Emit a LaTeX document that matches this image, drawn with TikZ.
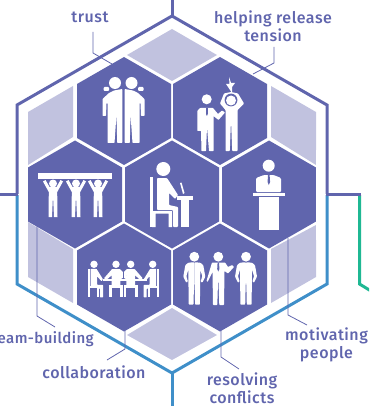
\documentclass[tikz,border=0pt]{standalone}
\usepackage{fontspec}
\setmainfont{Fira Sans}[UprightFont=* Medium,LetterSpace=3]
\definecolor{pur}{HTML}{6065AD}
\definecolor{lit}{HTML}{C1C2DF}
\definecolor{blu}{HTML}{3F8FC9}
\definecolor{grn}{HTML}{1FB893}
\newcommand{\hexcell}[2]{\fill[pur] (#1,#2-54) -- (#1+47,#2-27) -- (#1+47,#2+27) -- (#1,#2+54) -- (#1-47,#2+27) -- (#1-47,#2-27) -- cycle;}
\newcommand{\halfakimbo}{\fill[white,rounded corners=0.8] (0,5.5) -- (6,6) -- (9,8.5) -- (11,20) -- (8,26) -- (6.3,25) -- (8,19.5) -- (6,13) -- (5.6,48) -- (0.8,48) -- (0.3,27) -- (0,27) -- cycle;}
\newcommand{\akimbo}[2]{\begin{scope}[shift={(#1,#2)}]\fill[white] (0,0) circle (4.9);\halfakimbo\begin{scope}[xscale=-1]\halfakimbo\end{scope}\end{scope}}
\newcommand{\halfhug}{\fill[white,rounded corners=0.6] (-0.7,-1) -- (-9,0.5) -- (-14,3) -- (-20.5,9) -- (-20.5,26) -- (-17,26) -- (-16.5,13) -- (-15.5,13) -- (-15.5,53) -- (-8.5,53) -- (-6.5,24) -- (-5.8,53) -- (-0.7,53) -- cycle;
\fill[white,rounded corners=1] (-19.5,-3) rectangle (-14,1);}
\newcommand{\lifter}[2]{\begin{scope}[shift={(#1,#2)}]
\fill[white] (0,0) circle (4);
\fill[white] (-10,-2) -- (-7.5,-3.5) -- (-3.5,3.5) -- (3.5,3.5) -- (7.5,-3.5) -- (10,-2) -- (4.2,8.5) -- (4.5,33.5) -- (1,33.5) -- (0.2,16) -- (-0.2,16) -- (-1,33.5) -- (-4.5,33.5) -- (-4.2,8.5) -- cycle;
\end{scope}}
\newcommand{\sitterL}[1]{\begin{scope}[shift={(#1,264.3)}]
\fill[white] (0,0) circle (3.7);
\fill[white] (-6,4.5) rectangle (-4.3,33);
\fill[white] (-6,22) rectangle (5,24);
\fill[white] (3.2,24) rectangle (5,33);
\fill[white,rounded corners=.5] (-3.5,4.5) -- (2.5,4.5) -- (9,15) -- (7.5,17) -- (3.2,12) -- (3.2,20.5) -- (9,20.5) -- (9,33) -- (6,33) -- (6,24.5) -- (-3.5,22) -- cycle;
\end{scope}}
\newcommand{\sitterM}[2]{\begin{scope}[shift={(#1,264.3)},xscale=#2]
\fill[white] (0,0) circle (3.7);
\fill[white,rounded corners=.5] (-4,4.8) -- (4,4.8) -- (13,14) -- (11.5,16) -- (4.3,11) -- (4.3,21) -- (-4.3,21) -- (-4.3,11) -- (-9.5,15.5) -- (-12,14) -- cycle;
\fill[white] (-7,21) rectangle (7,24);
\fill[white] (-7,24) rectangle (-4.3,33);
\fill[white] (4.3,24) rectangle (7,33);
\end{scope}}
\begin{document}
\begin{tikzpicture}[x=1pt,y=-1pt,
 lbl/.style={text=pur,font=\fontsize{16}{17.6}\selectfont,inner sep=0pt,align=center},
 outer/.style={line width=3pt,line join=miter},
 leader/.style={draw=pur,line width=0.8pt}]
\clip (0,0) rectangle (369,406);
% light cells
\fill[lit] (172,29) -- (217,55) -- (172,81) -- (127,55) -- cycle;
\fill[lit] (28,112) -- (73,86) -- (73,137) -- (28,165) -- cycle;
\fill[lit] (271,86) -- (316,112) -- (316,165) -- (271,137) -- cycle;
\fill[lit] (28,222) -- (73,249) -- (73,303) -- (28,277) -- cycle;
\fill[lit] (271,249) -- (316,225) -- (316,277) -- (271,303) -- cycle;
\fill[lit] (172,308) -- (217,335) -- (172,360) -- (127,335) -- cycle;
% dark cells
\hexcell{124}{111}
\hexcell{220}{111}
\hexcell{75}{194.5}
\hexcell{172}{194.5}
\hexcell{269}{194.5}
\hexcell{124}{277.5}
\hexcell{220}{277.5}
% clip dark side cells to the inner bound
\fill[white] (24,150) rectangle (28,240);
\fill[white] (316,150) rectangle (320,240);
% outer frame
\draw[outer,pur] (17,194) -- (17,105) -- (172,16) -- (327,105) -- (327,194);
\draw[outer,blu] (17,195) -- (17,284) -- (172,373) -- (327,284) -- (327,195);
\draw[outer,pur] (172,0) -- (172,16);
\draw[outer,blu] (172,373) -- (172,406);
\draw[outer,pur] (0,194) -- (18,194);
\draw[outer,grn,line join=miter] (359.5,195) -- (359.5,284) -- (371,291);
\draw[outer,pur] (326,194) -- (361,194);
% trust
\fill[white] (115,83) circle (6);
\fill[white] (131.5,83) circle (6);
\begin{scope}[shift={(123,90)}]\halfhug\end{scope}
\begin{scope}[shift={(124,90)},xscale=-1]\halfhug\end{scope}
% helping release tension
\fill[white] (206.7,99.3) circle (5);
\fill[white,rounded corners=.5] (200,108) -- (213,108) -- (218,114) -- (222,110.5) -- (225,112.5) -- (218.5,120) -- (213.5,116) -- (213.5,151) -- (209,151) -- (207,127) -- (206,151) -- (201.5,151) -- (201,131) -- (197.3,131) -- (197.3,111) -- cycle;
\fill[pur] (206,108) -- (207.8,108) -- (207.8,114) -- (206.9,116) -- (206,114) -- cycle;
\fill[white,rounded corners=.6] (231,92) -- (238,93.5) -- (244,103.5) -- (237.5,110) -- (237.5,151) -- (232.2,151) -- (231.2,125) -- (230.8,125) -- (229.8,151) -- (225.5,151) -- (225.5,110) -- (220,103.5) -- (224,93.5) -- cycle;
\fill[pur] (231,100) circle (6.4);
\fill[white] (231,100.5) circle (5);
\fill[white] (229,77) -- (231,83) -- (235,83) -- (232,87) -- (232,93) -- (226,84) -- (229.5,84) -- cycle;
% team building
\fill[white] (38,173) rectangle (112,179);
\lifter{53}{183.5}
\lifter{76}{183.5}
\lifter{98}{183.5}
% centre
\fill[white] (163.3,169) circle (7);
\fill[white] (150,177) rectangle (153.3,227);
\fill[white] (152,211) -- (172,211) -- (172,227) -- (168.5,227) -- (168.5,213.5) -- (155.5,213.5) -- (155.5,227) -- (152,227) -- cycle;
\fill[white,rounded corners=.8] (157,178) -- (167,178) -- (178,195) -- (175,199) -- (169,193) -- (169,205) -- (178,207) -- (178,227) -- (173,227) -- (173,210) -- (157,210) -- cycle;
\fill[white] (177,196) rectangle (193,199.5);
\fill[white] (181,199) rectangle (189.3,227);
\fill[white] (180,183) -- (181.5,182.5) -- (184.5,193) -- (183,194) -- cycle;
% motivating people
\fill[white] (268.7,165.7) circle (6);
\fill[white,rounded corners=1.2] (256,192.2) -- (256,178) -- (264,175) -- (273.5,175) -- (281,178) -- (281,192.2) -- cycle;
\fill[pur] (268,175) -- (269.6,175) -- (270.1,182) -- (268.8,185) -- (267.6,182) -- cycle;
\fill[white] (253.3,192.5) rectangle (285,195.7);
\fill[white] (259,196.7) rectangle (279.3,230);
% collaboration
\fill[white] (103,279.2) rectangle (147,281);
\sitterL{94}
\begin{scope}[xshift=246.7pt,xscale=-1]\sitterL{94}\end{scope}
\sitterM{116}{1}
\sitterM{130.7}{-1}
\fill[pur] (123,272) -- (124,272) -- (124,279) -- (123,279) -- cycle;
% resolving conflicts
\akimbo{194.3}{256.7}
\akimbo{246}{256.7}
\fill[white] (218.3,256.7) circle (4.9);
\fill[white,rounded corners=.6] (212,262.5) -- (225,262.5) -- (228,267) -- (232,265) -- (234,267) -- (228,273.5) -- (224.5,271) -- (224,305) -- (219.3,305) -- (218.5,282) -- (218,282) -- (217.3,305) -- (213,305) -- (212.5,272) -- (207.5,282) -- (206.5,281) -- cycle;
\fill[pur] (217.6,262.5) -- (219,262.5) -- (219.4,269) -- (218.3,271.5) -- (217.2,269) -- cycle;
% leaders
\coordinate (t1) at (93,32); \coordinate (t2) at (93,53); \coordinate (t3) at (112,64);
\coordinate (h1) at (274,47); \coordinate (h2) at (274,63); \coordinate (h3) at (253,74);
\coordinate (b1) at (37,226); \coordinate (b2) at (37,316); \coordinate (b3) at (55,327);
\coordinate (c1) at (125,331); \coordinate (c2) at (125,349); \coordinate (c3) at (107,360);
\coordinate (r1) at (221,331); \coordinate (r2) at (221,357); \coordinate (r3) at (239,369);
\coordinate (m1) at (288,238); \coordinate (m2) at (288,315); \coordinate (m3) at (307,325);
\draw[leader] (t1) -- (t2) -- (t3);
\draw[leader] (h1) -- (h2) -- (h3);
\draw[leader] (b1) -- (b2) -- (b3);
\draw[leader] (c1) -- (c2) -- (c3);
\draw[leader] (r1) -- (r2) -- (r3);
\draw[leader] (m1) -- (m2) -- (m3);
% labels
\node[lbl] (ltrust) at (90,17) {trust};
\node[lbl] (lhelp) at (273,26) {helping release\\tension};
\node[lbl,anchor=east,font=\fontsize{15}{17}\selectfont] (lteam) at (94,339) {team-building};
\node[lbl] (lcoll) at (94,372) {collaboration};
\node[lbl] (lres) at (242,388.5) {resolving\\conflicts};
\node[lbl] (lmot) at (326.5,345) {motivating\\people};
\end{tikzpicture}
\end{document}
